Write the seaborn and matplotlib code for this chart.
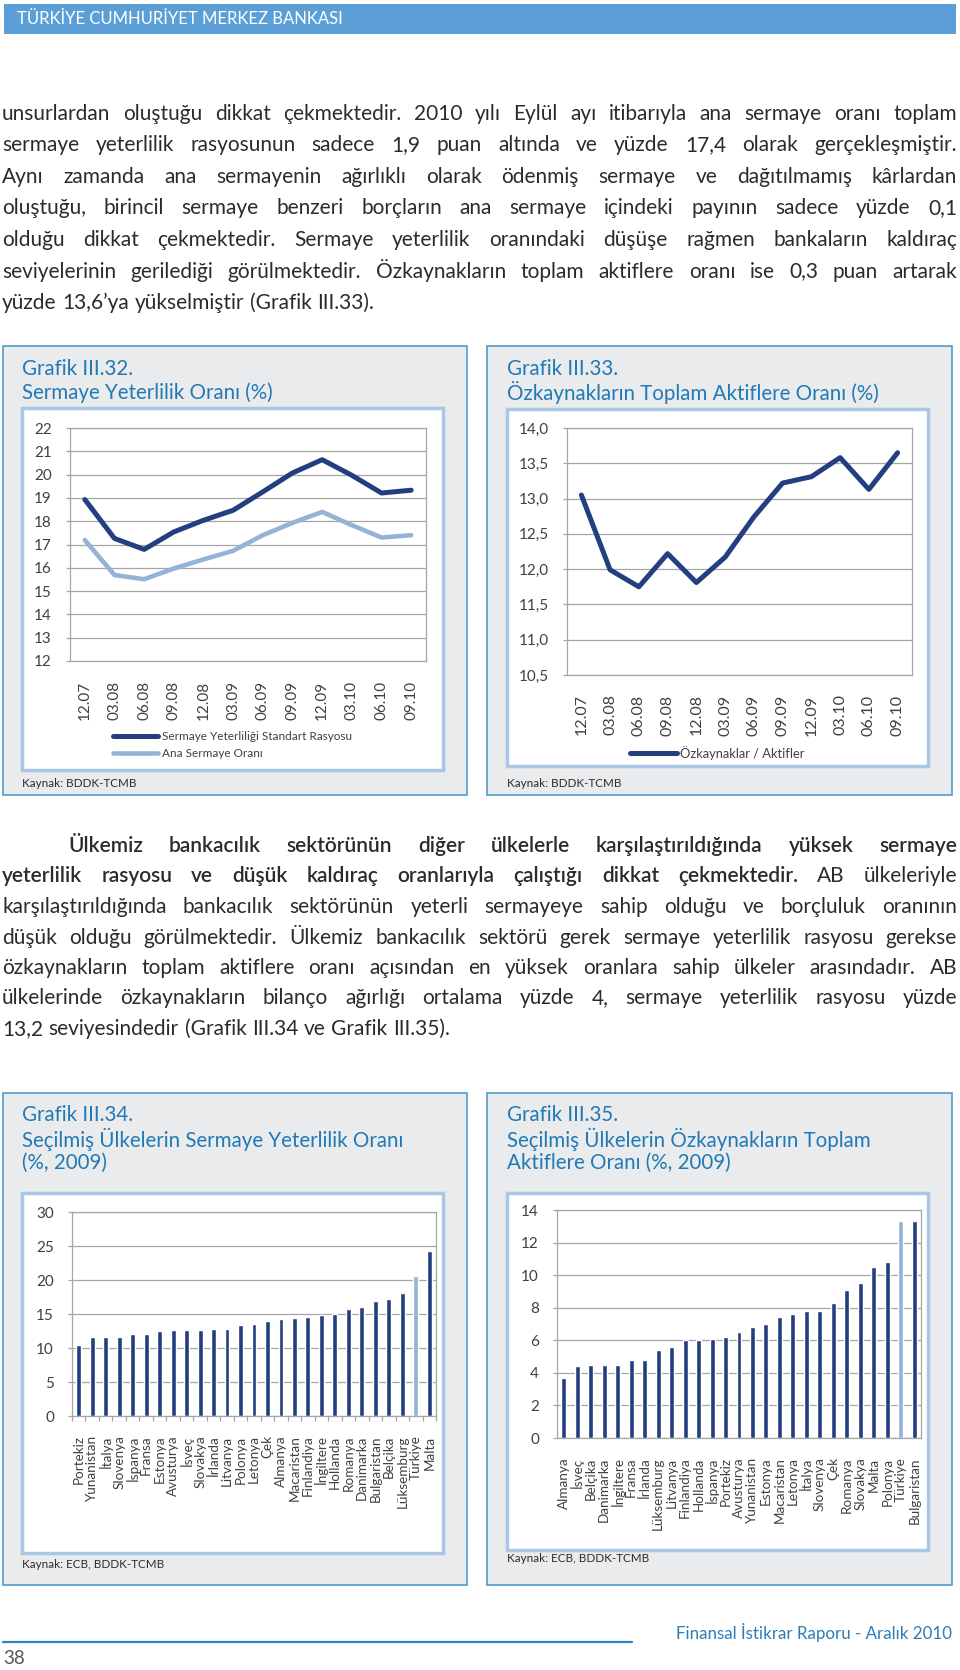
import numpy as np
import pandas as pd
import seaborn as sns
import matplotlib.pyplot as plt
from matplotlib.patches import Rectangle
from matplotlib.lines import Line2D
from matplotlib.font_manager import FontProperties

W, H = 960, 1670

# Grafik III.32 / III.33 (quarterly, 12.07 - 09.10)
dates = ['12.07', '03.08', '06.08', '09.08', '12.08', '03.09',
         '06.09', '09.09', '12.09', '03.10', '06.10', '09.10']
svs = [18.93, 17.26, 16.79, 17.54, 18.04, 18.47, 19.26, 20.07, 20.64, 19.97, 19.21, 19.33]
ana = [17.19, 15.69, 15.51, 15.97, 16.36, 16.73, 17.40, 17.93, 18.40, 17.83, 17.30, 17.40]
ozk = [13.05, 11.99, 11.75, 12.22, 11.81, 12.17, 12.74, 13.22, 13.31, 13.58, 13.13, 13.65]

# Grafik III.34
svr_countries = ['Portekiz', 'Yunanistan', 'İtalya', 'Slovenya', 'İspanya', 'Fransa',
                 'Estonya', 'Avusturya', 'İsveç', 'Slovakya', 'İrlanda', 'Litvanya',
                 'Polonya', 'Letonya', 'Çek', 'Almanya', 'Macaristan', 'Finlandiya',
                 'İngiltere', 'Hollanda', 'Romanya', 'Danimarka', 'Bulgaristan',
                 'Belçika', 'Lüksemburg', 'Türkiye', 'Malta']
svr_values = [10.4, 11.6, 11.6, 11.6, 12.1, 12.1, 12.5, 12.7, 12.7, 12.7, 12.75, 12.85,
              13.4, 13.6, 14.0, 14.2, 14.4, 14.55, 14.8, 14.95, 15.7, 16.0, 16.9,
              17.2, 18.1, 20.6, 24.2]

# Grafik III.35
oz_countries = ['Almanya', 'İsveç', 'Belçika', 'Danimarka', 'İngiltere', 'Fransa',
                'İrlanda', 'Lüksemburg', 'Litvanya', 'Finlandiya', 'Hollanda', 'İspanya',
                'Portekiz', 'Avusturya', 'Yunanistan', 'Estonya', 'Macaristan', 'Letonya',
                'İtalya', 'Slovenya', 'Çek', 'Romanya', 'Slovakya', 'Malta', 'Polonya',
                'Türkiye', 'Bulgaristan']
oz_values = [3.7, 4.4, 4.5, 4.5, 4.5, 4.8, 4.8, 5.4, 5.6, 6.0, 6.0, 6.1, 6.2, 6.5,
             6.8, 7.0, 7.4, 7.6, 7.8, 7.8, 8.3, 9.1, 9.5, 10.5, 10.8, 13.3, 13.3]

para1 = [
    [("unsurlardan oluştuğu dikkat çekmektedir. 2010 yılı Eylül ayı itibarıyla ana sermaye oranı toplam", 'normal')],
    [("sermaye yeterlilik rasyosunun sadece 1,9 puan altında ve yüzde 17,4 olarak gerçekleşmiştir.", 'normal')],
    [("Aynı zamanda ana sermayenin ağırlıklı olarak ödenmiş sermaye ve dağıtılmamış kârlardan", 'normal')],
    [("oluştuğu, birincil sermaye benzeri borçların ana sermaye içindeki payının sadece yüzde 0,1", 'normal')],
    [("olduğu dikkat çekmektedir. Sermaye yeterlilik oranındaki düşüşe rağmen bankaların kaldıraç", 'normal')],
    [("seviyelerinin gerilediği görülmektedir. Özkaynakların toplam aktiflere oranı ise 0,3 puan artarak", 'normal')],
    [("yüzde 13,6’ya yükselmiştir (Grafik III.33).", 'normal')],
]
para2 = [
    [("Ülkemiz bankacılık sektörünün diğer ülkelerle karşılaştırıldığında yüksek sermaye", 'semibold')],
    [("yeterlilik rasyosu ve düşük kaldıraç oranlarıyla çalıştığı dikkat çekmektedir.", 'semibold'),
     ("AB ülkeleriyle", 'normal')],
    [("karşılaştırıldığında bankacılık sektörünün yeterli sermayeye sahip olduğu ve borçluluk oranının", 'normal')],
    [("düşük olduğu görülmektedir. Ülkemiz bankacılık sektörü gerek sermaye yeterlilik rasyosu gerekse", 'normal')],
    [("özkaynakların toplam aktiflere oranı açısından en yüksek oranlara sahip ülkeler arasındadır. AB", 'normal')],
    [("ülkelerinde özkaynakların bilanço ağırlığı ortalama yüzde 4, sermaye yeterlilik rasyosu yüzde", 'normal')],
    [("13,2 seviyesindedir (Grafik III.34 ve Grafik III.35).", 'normal')],
]

NAVY = '#243F80'
LIGHT = '#95B3D7'
TITLE = '#2179B6'
HEADER = '#5C9FD6'
BOX_FACE = '#E9EBEC'
BOX_EDGE = '#4F9CCB'
INNER_EDGE = '#A9C6E5'
GRID = '#A6A6A6'
TICK = '#404040'
TEXT = '#2B2B2B'
FONT = ['Lato', 'DejaVu Sans']

sns.set_style("white")
plt.rcParams['font.family'] = FONT

fig = plt.figure(figsize=(W / 100, H / 100), dpi=100)
renderer = fig.canvas.get_renderer()


def fx(x):
    return x / W


def fy(y):
    return 1 - y / H


def box(x0, y0, x1, y1, face, edge, lw):
    fig.add_artist(Rectangle((fx(x0), fy(y1)), (x1 - x0) / W, (y1 - y0) / H,
                             transform=fig.transFigure, facecolor=face,
                             edgecolor=edge, linewidth=lw, zorder=-10))


def axes_px(x0, y0, x1, y1):
    return fig.add_axes([fx(x0), fy(y1), (x1 - x0) / W, (y1 - y0) / H])


def label(x, y, s, **kw):
    kw.setdefault('va', 'center')
    fig.text(fx(x), fy(y), s, **kw)


def text_w(s, size, weight):
    prop = FontProperties(family=FONT, size=size, weight=weight)
    return renderer.get_text_width_height_descent(s, prop, ismath=False)[0]


def words_of(segs):
    return [(w, wt) for txt, wt in segs for w in txt.split()]


def fit_size(lines, width, indent, start=15.0, min_gap=3.0):
    size = start
    while size > 8:
        ok = True
        for i, segs in enumerate(lines[:-1]):
            ws = words_of(segs)
            avail = width - (indent if i == 0 else 0)
            total = sum(text_w(w, size, wt) for w, wt in ws)
            if total + min_gap * (len(ws) - 1) > avail:
                ok = False
                break
        if ok:
            return size
        size -= 0.25
    return size


def justified(lines, left, right, base, step, indent=0):
    size = fit_size(lines, right - left, indent)
    space = size * 100 / 72 * 0.27
    for i, segs in enumerate(lines):
        x0 = left + (indent if i == 0 else 0)
        ws = words_of(segs)
        widths = [text_w(w, size, wt) for w, wt in ws]
        if i < len(lines) - 1:
            gap = (right - x0 - sum(widths)) / (len(ws) - 1)
        else:
            gap = space
        x = x0
        for (w, wt), wd in zip(ws, widths):
            fig.text(fx(x), fy(base + i * step), w, fontsize=size, fontweight=wt,
                     color=TEXT, va='baseline', ha='left')
            x += wd + gap


def style_axes(ax, n, ylim, yticks, ylabels, xpad):
    ax.set_facecolor('white')
    ax.set_xlim(-0.5, n - 0.5)
    ax.set_ylim(*ylim)
    ax.set_yticks(yticks, ylabels)
    ax.grid(axis='y', color=GRID, linewidth=0.9)
    ax.grid(axis='x', visible=False)
    ax.set_axisbelow(True)
    for s in ax.spines.values():
        s.set_visible(True)
        s.set_color(GRID)
        s.set_linewidth(0.9)
    ax.tick_params(axis='y', left=True, length=3, width=0.9, color=GRID,
                   labelsize=11, labelcolor=TICK, pad=10)
    ax.tick_params(axis='x', which='major', bottom=True, length=0, pad=xpad,
                   labelcolor=TICK)
    ax.set_xlabel('')
    ax.set_ylabel('')


# header band
box(4, 4, 956, 34, HEADER, 'none', 0)
label(17, 19, 'TÜRKİYE CUMHURİYET MERKEZ BANKASI', color='white', fontsize=12)

justified(para1, 2, 957, 119.5, 31.6)
justified(para2, 2, 957, 852, 30.5, indent=66)

# chart frames
for x0, x1 in [(3, 467), (487, 952)]:
    box(x0, 346, x1, 795, BOX_FACE, BOX_EDGE, 1.2)
    box(x0, 1093, x1, 1585, BOX_FACE, BOX_EDGE, 1.2)
box(22, 408, 443, 770, 'white', INNER_EDGE, 2.5)
box(507, 409, 928, 766, 'white', INNER_EDGE, 2.5)
box(22, 1193, 443, 1553, 'white', INNER_EDGE, 2.5)
box(507, 1193, 928, 1550, 'white', INNER_EDGE, 2.5)

ttl = dict(color=TITLE, fontsize=14.8)
label(22, 369, 'Grafik III.32.', **ttl)
label(22, 393, 'Sermaye Yeterlilik Oranı (%)', **ttl)
label(507, 369, 'Grafik III.33.', **ttl)
label(507, 393, 'Özkaynakların Toplam Aktiflere Oranı (%)', **ttl)
label(22, 1115, 'Grafik III.34.', **ttl)
label(22, 1139, 'Seçilmiş Ülkelerin Sermaye Yeterlilik Oranı', **ttl)
label(22, 1163, '(%, 2009)', **ttl)
label(507, 1115, 'Grafik III.35.', **ttl)
label(507, 1139, 'Seçilmiş Ülkelerin Özkaynakların Toplam', **ttl)
label(507, 1163, 'Aktiflere Oranı (%, 2009)', **ttl)

src = dict(color=TEXT, fontsize=8.4)
label(22, 783, 'Kaynak: BDDK-TCMB', **src)
label(507, 783, 'Kaynak: BDDK-TCMB', **src)
label(22, 1564, 'Kaynak: ECB, BDDK-TCMB', **src)
label(507, 1559, 'Kaynak: ECB, BDDK-TCMB', **src)

pos = np.arange(len(dates))

# Grafik III.32
ax1 = axes_px(70, 428, 426, 661)
lab1, lab2 = 'Sermaye Yeterliliği Standart Rasyosu', 'Ana Sermaye Oranı'
sns.lineplot(x=pos, y=svs, color=NAVY, linewidth=3.6, ax=ax1,
             solid_joinstyle='round', solid_capstyle='round')
sns.lineplot(x=pos, y=ana, color=LIGHT, linewidth=3.3, ax=ax1,
             solid_joinstyle='round', solid_capstyle='round')
style_axes(ax1, len(dates), (12, 22), range(12, 23), [str(v) for v in range(12, 23)], 14)
ax1.set_xticks(pos, dates, rotation=90, fontsize=11)
ax1.legend([Line2D([], [], color=NAVY, lw=3.6), Line2D([], [], color=LIGHT, lw=3.3)],
           [lab1, lab2], loc='center left', bbox_to_anchor=(fx(113), fy(745)),
           bbox_transform=fig.transFigure, frameon=False, fontsize=8.5,
           handlelength=3.8, handletextpad=0.35, labelspacing=0.45,
           borderpad=0, borderaxespad=0, labelcolor=TICK)

# Grafik III.33
ax2 = axes_px(567, 428, 912, 675)
sns.lineplot(x=pos, y=ozk, color=NAVY, linewidth=3.6, ax=ax2,
             solid_joinstyle='round', solid_capstyle='round')
yt2 = np.arange(10.5, 14.01, 0.5)
style_axes(ax2, len(dates), (10.5, 14), yt2, [f'{v:.1f}'.replace('.', ',') for v in yt2], 14)
ax2.set_xticks(pos, dates, rotation=90, fontsize=11.5)
ax2.legend([Line2D([], [], color=NAVY, lw=3.6)], ['Özkaynaklar / Aktifler'],
           loc='center left', bbox_to_anchor=(fx(630), fy(753)),
           bbox_transform=fig.transFigure, frameon=False, fontsize=9.3,
           handlelength=3.6, handletextpad=0.3, borderpad=0, borderaxespad=0,
           labelcolor=TICK)

# Grafik III.34
ax3 = axes_px(72, 1212, 436, 1416)
df3 = pd.DataFrame({'Ülke': svr_countries, 'Oran': svr_values})
sns.barplot(data=df3, x='Ülke', y='Oran', hue='Ülke', legend=False, ax=ax3,
            palette=[LIGHT if c == 'Türkiye' else NAVY for c in svr_countries],
            width=0.36, saturation=1)
style_axes(ax3, len(svr_countries), (0, 30), range(0, 31, 5), [str(v) for v in range(0, 31, 5)], 14)
ax3.set_xticks(range(len(svr_countries)), svr_countries, rotation=90, fontsize=9.7)
ax3.set_xticks(np.arange(-0.5, len(svr_countries), 1), minor=True)
ax3.tick_params(axis='x', which='minor', bottom=True, length=3.5, width=0.9, color=GRID)

# Grafik III.35
ax4 = axes_px(557, 1210, 921, 1438)
df4 = pd.DataFrame({'Ülke': oz_countries, 'Oran': oz_values})
sns.barplot(data=df4, x='Ülke', y='Oran', hue='Ülke', legend=False, ax=ax4,
            palette=[LIGHT if c == 'Türkiye' else NAVY for c in oz_countries],
            width=0.37, saturation=1)
style_axes(ax4, len(oz_countries), (0, 14), range(0, 15, 2), [str(v) for v in range(0, 15, 2)], 14)
ax4.set_xticks(range(len(oz_countries)), oz_countries, rotation=90, fontsize=9.7)

# footer
fig.add_artist(Line2D([fx(3), fx(632)], [fy(1642), fy(1642)], transform=fig.transFigure,
                      color='#2C83BF', linewidth=1.6))
label(952, 1633, 'Finansal İstikrar Raporu - Aralık 2010', ha='right',
      color='#2A7DB8', fontsize=12.2)
label(3, 1659, '38', color='#555555', fontsize=13.5)

fig.savefig('out.png', dpi=100)
